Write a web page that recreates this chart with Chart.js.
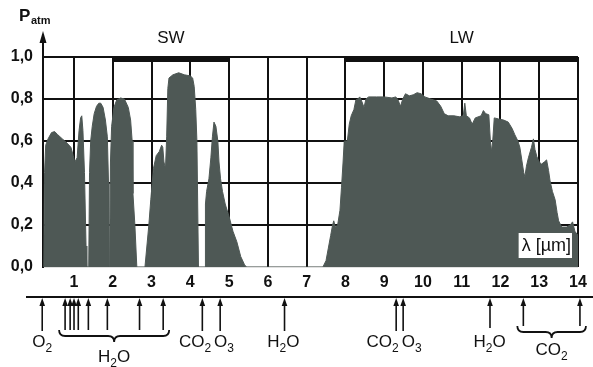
<!DOCTYPE html>
<html>
<head>
<meta charset="utf-8">
<script src="https://cdn.jsdelivr.net/npm/chart.js@4/dist/chart.umd.min.js"></script>
<style>
  html, body { margin: 0; padding: 0; background: #fff; }
  #wrap { width: 593px; height: 367px; }
</style>
</head>
<body>
<div id="wrap"><canvas id="c" width="593" height="367"></canvas></div>
<script>
// Atmospheric transmission P_atm versus wavelength (µm)
const wavelength = [
  0.22, 0.24, 0.27, 0.33, 0.42, 0.50, 0.58, 0.70, 0.82, 0.92, 0.98, 1.02, 1.08, 1.13, 1.17, 1.20, 1.23, 1.27, 1.31, 1.33,
  1.38, 1.40, 1.43, 1.47, 1.52, 1.58, 1.64, 1.69, 1.75, 1.81, 1.86, 1.89, 1.90,
  1.92, 1.94, 1.97, 2.03, 2.10, 2.20, 2.30, 2.40, 2.46, 2.50, 2.52, 2.57, 2.62,
  2.83, 2.88, 2.93, 2.98, 3.05, 3.12, 3.20, 3.26, 3.29, 3.32, 3.36, 3.39, 3.42, 3.45, 3.55, 3.70, 3.85, 4.00, 4.06, 4.10, 4.14, 4.17, 4.21,
  4.38, 4.39, 4.42, 4.48, 4.53, 4.57, 4.61, 4.66, 4.71, 4.74, 4.78, 4.83, 4.90, 5.00, 5.10, 5.20, 5.30, 5.40, 5.45,
  7.42, 7.50, 7.56, 7.62, 7.67, 7.70, 7.74, 7.80, 7.86, 7.90, 7.94, 7.97, 8.05, 8.10, 8.15, 8.22, 8.27, 8.32, 8.37, 8.42,
  8.48, 8.53, 8.60, 8.80, 9.00, 9.20, 9.30, 9.36, 9.42, 9.48, 9.55, 9.65, 9.75, 9.85, 9.95, 10.05, 10.20, 10.36, 10.46,
  10.55, 10.65, 10.80, 10.95, 11.04, 11.08, 11.12, 11.20, 11.27, 11.35, 11.50, 11.56, 11.62, 11.70, 11.74, 11.77, 11.80,
  11.84, 11.95, 12.08, 12.20, 12.30, 12.37, 12.45, 12.50, 12.55, 12.60, 12.63, 12.67, 12.72, 12.80, 12.85, 12.89, 12.94,
  13.00, 13.06, 13.13, 13.19, 13.24, 13.28, 13.34, 13.41, 13.46, 13.50, 13.58, 13.70, 13.80, 13.86, 13.92, 14.00
];
const transmission = [
  0.00, 0.45, 0.58, 0.61, 0.64, 0.645, 0.63, 0.61, 0.59, 0.57, 0.53, 0.50, 0.52, 0.65, 0.71, 0.72, 0.65, 0.45, 0.10, 0.00,
  0.00, 0.45, 0.60, 0.67, 0.73, 0.765, 0.78, 0.78, 0.76, 0.70, 0.62, 0.40, 0.00,
  0.00, 0.50, 0.67, 0.76, 0.795, 0.805, 0.80, 0.76, 0.70, 0.60, 0.35, 0.20, 0.00,
  0.00, 0.10, 0.20, 0.32, 0.47, 0.53, 0.55, 0.58, 0.57, 0.50, 0.47, 0.62, 0.85, 0.90, 0.915, 0.925, 0.915, 0.91, 0.90, 0.86, 0.75, 0.60, 0.00,
  0.00, 0.30, 0.36, 0.42, 0.52, 0.62, 0.69, 0.67, 0.60, 0.50, 0.42, 0.36, 0.30, 0.24, 0.17, 0.12, 0.05, 0.01, 0.00,
  0.00, 0.03, 0.09, 0.15, 0.20, 0.22, 0.19, 0.20, 0.27, 0.38, 0.50, 0.60, 0.60, 0.68, 0.72, 0.75, 0.795, 0.80, 0.81, 0.79,
  0.76, 0.80, 0.81, 0.81, 0.81, 0.805, 0.81, 0.795, 0.765, 0.80, 0.825, 0.815, 0.82, 0.83, 0.825, 0.81, 0.80, 0.79, 0.765,
  0.73, 0.72, 0.72, 0.715, 0.72, 0.78, 0.72, 0.71, 0.68, 0.71, 0.72, 0.745, 0.73, 0.725, 0.60, 0.55, 0.60,
  0.71, 0.705, 0.70, 0.69, 0.66, 0.63, 0.60, 0.57, 0.51, 0.45, 0.43, 0.48, 0.52, 0.57, 0.61, 0.56, 0.525,
  0.50, 0.49, 0.50, 0.51, 0.46, 0.41, 0.36, 0.32, 0.26, 0.22, 0.19, 0.19, 0.20, 0.215, 0.17, 0.15
];

// Axis ticks
const xTickValues = [1, 2, 3, 4, 5, 6, 7, 8, 9, 10, 11, 12, 13, 14];
const yLabelledTicks = [0, 0.2, 0.4, 0.6, 0.8, 1.0];

// Spectral ranges shown along the top edge
const rangeNames = ['SW', 'LW'];
const rangeStart = [2, 8];
const rangeEnd = [5, 14];

// Absorption lines below the axis
const absorptionLines = [0.18, 0.77, 0.90, 1.00, 1.11, 1.37, 1.86, 2.69, 3.30, 4.31, 4.77, 6.43, 9.31, 9.49, 11.73, 12.59, 14.05];
const gasNames = ['O2', 'CO2', 'O3', 'H2O', 'CO2', 'O3', 'H2O'];
const gasLabelAt = [0.18, 4.12, 4.87, 6.40, 8.96, 9.71, 11.72];
// Groups of lines joined by a brace
const braceNames = ['H2O', 'CO2'];
const braceFirst = [0.77, 12.59];
const braceLast = [3.30, 14.05];

const FONT = '"Liberation Sans", Arial, Helvetica, sans-serif';
const INK = '#111';

function drawFormula(ctx, text, cx, baseline, size, weight) {
  const parts = text.match(/\d+|\D+/g);
  const mainFont = `${weight || 'normal'} ${size}px ${FONT}`;
  const subFont = `${weight || 'normal'} ${Math.round(size * 0.68)}px ${FONT}`;
  let w = 0;
  for (const p of parts) { ctx.font = /\d/.test(p) ? subFont : mainFont; w += ctx.measureText(p).width; }
  let x = cx - w / 2;
  ctx.textAlign = 'left';
  ctx.textBaseline = 'alphabetic';
  for (const p of parts) {
    const sub = /\d/.test(p);
    ctx.font = sub ? subFont : mainFont;
    ctx.fillText(p, x, sub ? baseline + size * 0.3 : baseline);
    x += ctx.measureText(p).width;
  }
}

function drawBrace(ctx, x1, x2, yTop, yMid, yTip) {
  const xc = (x1 + x2) / 2, r = 6;
  ctx.beginPath();
  ctx.moveTo(x1, yTop);
  ctx.quadraticCurveTo(x1, yMid, x1 + r, yMid);
  ctx.lineTo(xc - r, yMid);
  ctx.quadraticCurveTo(xc, yMid, xc, yTip);
  ctx.quadraticCurveTo(xc, yMid, xc + r, yMid);
  ctx.lineTo(x2 - r, yMid);
  ctx.quadraticCurveTo(x2, yMid, x2, yTop);
  ctx.stroke();
}

function drawUpArrow(ctx, x, yTip, yEnd) {
  ctx.beginPath();
  ctx.moveTo(x, yTip + 6);
  ctx.lineTo(x, yEnd);
  ctx.stroke();
  ctx.beginPath();
  ctx.moveTo(x, yTip);
  ctx.lineTo(x - 2.8, yTip + 8);
  ctx.lineTo(x + 2.8, yTip + 8);
  ctx.closePath();
  ctx.fill();
}

const decorations = {
  id: 'decorations',
  afterDraw(chart) {
    const { ctx, chartArea: a, scales: { x, y } } = chart;
    ctx.save();
    ctx.fillStyle = INK;
    ctx.strokeStyle = INK;

    // vertical axis extended into an arrow
    ctx.lineWidth = 2;
    ctx.beginPath();
    ctx.moveTo(a.left, a.top);
    ctx.lineTo(a.left, a.top - 16);
    ctx.stroke();
    ctx.beginPath();
    ctx.moveTo(a.left, a.top - 26);
    ctx.lineTo(a.left - 3.5, a.top - 14);
    ctx.lineTo(a.left + 3.5, a.top - 14);
    ctx.closePath();
    ctx.fill();

    // axis title P_atm
    ctx.textAlign = 'left';
    ctx.textBaseline = 'alphabetic';
    ctx.font = `bold 17px ${FONT}`;
    ctx.fillText('P', 19, 21);
    ctx.font = `bold 11px ${FONT}`;
    ctx.fillText('atm', 31, 24);

    // SW / LW ranges
    const yTop = y.getPixelForValue(1);
    rangeNames.forEach((name, i) => {
      const x1 = x.getPixelForValue(rangeStart[i]);
      const x2 = x.getPixelForValue(rangeEnd[i]);
      ctx.fillRect(x1, yTop - 1, x2 - x1, 6);
      ctx.font = `17px ${FONT}`;
      ctx.textAlign = 'center';
      ctx.fillText(name, (x1 + x2) / 2, yTop - 14);
    });

    // wavelength unit tag
    ctx.font = `18px ${FONT}`;
    const unit = 'λ [µm]';
    const uw = ctx.measureText(unit).width;
    const ux2 = a.right - 7;
    const uyMid = a.bottom - 22;
    ctx.fillStyle = '#fff';
    ctx.fillRect(ux2 - uw - 3, uyMid - 12, uw + 4, 25);
    ctx.fillStyle = INK;
    ctx.textAlign = 'right';
    ctx.textBaseline = 'middle';
    ctx.fillText(unit, ux2, uyMid + 1);

    // absorption strip below the axis
    const base = a.bottom + 30;
    ctx.lineWidth = 2;
    ctx.beginPath();
    ctx.moveTo(a.left - 17, base);
    ctx.lineTo(chart.width, base);
    ctx.stroke();

    const inBrace = v => braceFirst.some((f, i) => v >= f - 1e-6 && v <= braceLast[i] + 1e-6);
    ctx.lineWidth = 1.6;
    absorptionLines.forEach((v, i) => {
      const px = x.getPixelForValue(v);
      let end = base + 34;
      if (inBrace(v)) end = v > 10 ? base + 29 : base + 33;
      if (v > 11 && v < 12) end = base + 31;
      drawUpArrow(ctx, px, base + 1, end);
    });

    braceNames.forEach((name, i) => {
      const x1 = x.getPixelForValue(braceFirst[i]) - 6;
      const x2 = x.getPixelForValue(braceLast[i]) + 6;
      const top = name === 'CO2' ? base + 29 : base + 33;
      ctx.lineWidth = 1.8;
      drawBrace(ctx, x1, x2, top, top + 6, top + 12);
      drawFormula(ctx, name, (x1 + x2) / 2, name === 'CO2' ? base + 58 : base + 65, 17);
    });

    gasNames.forEach((name, i) => {
      drawFormula(ctx, name, x.getPixelForValue(gasLabelAt[i]), base + 50, 17);
    });

    ctx.restore();
  }
};

const gridColor = '#111';

new Chart(document.getElementById('c'), {
  type: 'line',
  data: {
    datasets: [{
      data: wavelength.map((w, i) => ({ x: w, y: transmission[i] })),
      fill: 'origin',
      backgroundColor: '#4e5855',
      borderColor: '#4e5855',
      borderWidth: 1,
      pointRadius: 0,
      tension: 0
    }]
  },
  options: {
    responsive: false,
    animation: false,
    devicePixelRatio: 1,
    layout: { padding: { top: 57, right: 15, bottom: 0, left: 0 } },
    plugins: { legend: { display: false }, tooltip: { enabled: false } },
    scales: {
      x: {
        type: 'linear',
        min: 0.2,
        max: 14,
        z: 1,
        afterFit: s => { s.height = 100; },
        afterBuildTicks: s => { s.ticks = xTickValues.map(v => ({ value: v })); },
        grid: { color: gridColor, lineWidth: 2, drawTicks: false },
        border: { display: false },
        ticks: {
          padding: 6,
          color: INK,
          font: { family: FONT, size: 16, weight: 'bold' },
          callback: v => String(v)
        }
      },
      y: {
        min: 0,
        max: 1,
        z: 1,
        afterFit: s => { s.width = 43; },
        grid: {
          color: c => (c.tick && c.tick.value === 0 ? 'rgba(0,0,0,0.12)' : gridColor),
          lineWidth: 2,
          drawTicks: false
        },
        border: { display: true, color: gridColor, width: 2 },
        ticks: {
          stepSize: 0.1,
          padding: 10,
          color: INK,
          font: { family: FONT, size: 16, weight: 'bold' },
          callback: v => {
            const k = Math.round(v * 10);
            return yLabelledTicks.some(t => Math.round(t * 10) === k) ? (k / 10).toFixed(1).replace('.', ',') : '';
          }
        }
      }
    }
  },
  plugins: [decorations]
});
</script>
</body>
</html>
